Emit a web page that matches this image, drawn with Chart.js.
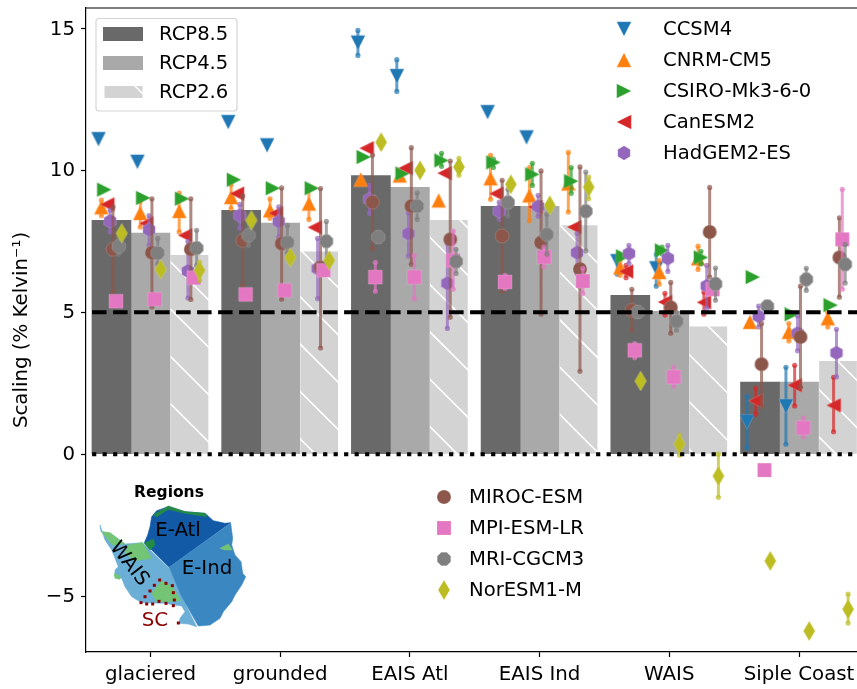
<!DOCTYPE html>
<html>
<head>
<meta charset="utf-8">
<style>
  html, body { margin: 0; padding: 0; background: #fff; }
  canvas { display: block; }
</style>
<script src="https://cdn.jsdelivr.net/npm/chart.js@4"></script>
</head>
<body>
<canvas id="chart" width="857" height="689"></canvas>
<script>
  // ===== Data =====
  const regions = ["glaciered", "grounded", "EAIS Atl", "EAIS Ind", "WAIS", "Siple Coast"];
  const yTicks = [-5, 0, 5, 10, 15];

  const rcp85 = [8.24, 8.59, 9.82, 8.73, 5.6, 2.54];
  const rcp45 = [7.79, 8.14, 9.4, 8.73, 5.03, 2.54];
  const rcp26 = [7.04, 7.16, 8.27, 8.09, 4.52, 3.31];

  // model values go region by region, three per region: RCP8.5, RCP4.5, RCP2.6
  const ccsm4Val = [11.1, 10.3, null, 11.7, 10.88, null, 14.5, 13.32, null, 12.05, 11.16, null, 6.8, 6.55, null, 1.14, 1.69, null];
  const ccsm4Lo = [null, null, null, null, null, null, 14.05, 12.78, null, null, null, null, 6.34, 5.92, null, 0.22, 0.35, null];
  const ccsm4Hi = [null, null, null, null, null, null, 14.93, 13.9, null, null, null, null, 7.0, 7.04, null, 2.04, 3.06, null];

  const cnrmVal = [8.7, 8.5, 8.57, 9.06, 8.59, 8.83, 9.68, 9.82, 8.94, 9.72, 9.12, 9.54, 6.58, 6.42, 6.9, 4.66, 4.31, 4.79];
  const cnrmLo = [8.4, 8.0, 7.83, 8.65, 8.31, 8.27, null, null, null, 8.98, 8.22, 8.53, 6.3, 5.99, 6.51, null, 3.99, 4.48];
  const cnrmHi = [8.95, 8.9, 9.2, 9.5, 9.0, 9.4, null, null, null, 10.53, 10.1, 10.63, 6.85, 6.83, 7.33, null, 4.6, 5.0];

  const csiroVal = [9.32, 9.03, 9.0, 9.67, 9.37, 9.37, 10.47, 9.89, 10.35, 10.28, 9.86, 9.62, 6.97, 7.18, 6.93, 6.24, 4.93, 5.25];
  const csiroLo = [null, null, null, null, null, null, null, null, 10.14, 10.1, 9.47, 9.19, null, 7.05, 6.7, null, null, null];
  const csiroHi = [null, null, null, null, null, null, null, null, 10.6, 10.4, 10.25, 10.1, null, 7.3, 7.15, null, null, null];

  const canVal = [8.8, 8.13, 7.71, 9.18, 8.49, 7.99, 10.78, 10.08, 9.9, 9.18, 8.71, 8.0, 6.44, 5.36, 5.35, 1.88, 2.43, 1.72];
  const canLo = [null, null, null, null, null, null, null, null, null, null, null, null, 6.22, 4.9, 4.93, 1.41, 1.7, 0.79];
  const canHi = [null, null, null, null, null, null, null, null, null, null, null, null, 6.65, 5.67, 5.71, 2.33, 3.13, 2.71];

  const hadVal = [8.21, 7.91, 6.45, 8.41, 8.2, 6.54, 8.98, 7.77, 6.02, 8.56, 8.73, 7.1, 7.07, 6.9, 5.93, 4.86, 4.26, 3.57];
  const hadLo = [7.83, 7.36, 5.5, 7.96, 7.65, 5.48, 8.48, 6.98, 4.43, 8.27, 8.38, 6.37, 6.72, 6.44, 5.14, 4.48, 3.64, 2.72];
  const hadHi = [8.6, 8.41, 7.5, 8.8, 8.71, 7.6, 9.47, 8.5, 7.42, 8.88, 9.12, 7.78, 7.36, 7.36, 6.65, 5.22, 4.87, 4.4];

  const mirocVal = [7.22, 7.1, 7.22, 7.53, 7.42, 6.58, 8.88, 8.74, 7.57, 7.69, 7.46, 6.52, 5.07, 5.17, 7.83, 3.17, 4.13, 6.93];
  const mirocLo = [5.72, 5.19, 5.45, 5.95, 5.46, 3.74, 7.25, 6.69, 4.82, 5.74, 4.93, 2.92, 4.37, 4.26, 6.24, 1.67, 2.36, 5.53];
  const mirocHi = [8.71, 9.0, 9.0, 9.1, 9.38, 9.36, 10.53, 10.8, 10.33, 9.65, 9.98, 10.12, 5.81, 6.05, 9.4, 4.6, 5.92, 8.33];

  const mpiVal = [5.39, 5.46, 6.22, 5.63, 5.77, 6.48, 6.24, 6.24, 6.83, 6.07, 6.95, 6.1, 3.66, 2.72, 5.81, -0.56, 0.93, 7.57];
  const mpiLo = [null, null, null, null, null, null, 5.74, 5.48, 5.81, 5.84, 6.6, 5.66, 3.4, 2.39, null, null, 0.61, 5.81];
  const mpiHi = [null, null, null, null, null, null, 6.76, 7.0, 7.86, 6.3, 7.3, 6.55, 3.9, 3.06, null, null, 1.27, 9.33];

  const mriVal = [7.32, 7.09, 7.26, 7.71, 7.46, 7.5, 7.65, 8.74, 6.79, 8.87, 7.74, 8.56, 5.01, 4.68, 6.0, 5.21, 6.16, 6.69];
  const mriLo = [7.04, 6.7, 6.65, 7.36, 7.1, 6.76, null, 8.27, 6.37, 8.39, 7.04, 7.16, 4.85, 4.37, 5.42, 5.05, 5.77, 6.03];
  const mriHi = [7.64, 7.6, 7.89, 8.2, 8.06, 8.2, null, 9.21, 7.22, 9.33, 8.45, 9.94, 5.15, 5.0, 6.56, 5.35, 6.55, 7.39];

  const norVal = [7.78, 6.51, 6.48, 8.24, 6.93, 6.83, 10.99, 10.0, 10.12, 9.51, 8.77, 9.41, 2.58, 0.35, -0.77, -3.76, -6.23, -5.46];
  const norLo = [null, null, 6.13, null, null, null, null, null, 9.83, null, null, 9.0, null, -0.03, -1.52, null, null, -5.95];
  const norHi = [null, null, 6.77, null, null, null, null, null, 10.42, null, null, 9.76, null, 0.67, 0, null, null, -4.93];

  const models = [
    { name: "CCSM4", color: "#1f77b4", shape: "down", val: ccsm4Val, lo: ccsm4Lo, hi: ccsm4Hi },
    { name: "CNRM-CM5", color: "#ff7f0e", shape: "up", val: cnrmVal, lo: cnrmLo, hi: cnrmHi },
    { name: "CSIRO-Mk3-6-0", color: "#2ca02c", shape: "right", val: csiroVal, lo: csiroLo, hi: csiroHi },
    { name: "CanESM2", color: "#d62728", shape: "left", val: canVal, lo: canLo, hi: canHi },
    { name: "HadGEM2-ES", color: "#9467bd", shape: "hexagon", val: hadVal, lo: hadLo, hi: hadHi },
    { name: "MIROC-ESM", color: "#8c564b", shape: "circle", val: mirocVal, lo: mirocLo, hi: mirocHi },
    { name: "MPI-ESM-LR", color: "#e377c2", shape: "square", val: mpiVal, lo: mpiLo, hi: mpiHi },
    { name: "MRI-CGCM3", color: "#7f7f7f", shape: "octagon", val: mriVal, lo: mriLo, hi: mriHi },
    { name: "NorESM1-M", color: "#bcbd22", shape: "diamond", val: norVal, lo: norLo, hi: norHi }
  ];

  // ===== Helpers =====
  const FONT = '"DejaVu Sans"';
  const FONT_SIZE = 19.8;
  const LEGEND_FONT_SIZE = 19.6;
  const BAR_STEP = 0.3;
  const MODEL_STEP = 0.0224;

  function regularPolygon(n, r, turn) {
    const pts = [];
    for (let k = 0; k < n; k++) {
      const a = Math.PI * 2 / n * k + turn;
      pts.push([r * Math.sin(a), -r * Math.cos(a)]);
    }
    return pts;
  }

  function makeMarker(shape, color) {
    const c = document.createElement("canvas");
    c.width = 28;
    c.height = 28;
    const g = c.getContext("2d");
    g.translate(14, 14);
    g.beginPath();
    if (shape === "circle") {
      g.arc(0, 0, 7, 0, Math.PI * 2);
    } else {
      let pts;
      if (shape === "down") pts = [[-7.3, -7.3], [7.3, -7.3], [0, 7.3]];
      if (shape === "up") pts = [[-7.3, 7.3], [7.3, 7.3], [0, -7.3]];
      if (shape === "right") pts = [[-7.3, -7.3], [-7.3, 7.3], [7.3, 0]];
      if (shape === "left") pts = [[7.3, -7.3], [7.3, 7.3], [-7.3, 0]];
      if (shape === "square") pts = [[-7, -7], [7, -7], [7, 7], [-7, 7]];
      if (shape === "diamond") pts = [[0, -9.9], [5.9, 0], [0, 9.9], [-5.9, 0]];
      if (shape === "hexagon") pts = regularPolygon(6, 7.2, 0);
      if (shape === "octagon") pts = regularPolygon(8, 7.3, Math.PI / 8);
      pts.forEach((p, k) => k ? g.lineTo(p[0], p[1]) : g.moveTo(p[0], p[1]));
      g.closePath();
    }
    g.fillStyle = color;
    g.fill();
    g.strokeStyle = "rgba(255,255,255,0.35)";
    g.lineWidth = 0.5;
    g.stroke();
    return c;
  }
  models.forEach(m => m.marker = makeMarker(m.shape, m.color));

  // white "\" hatch, anchored to the canvas like the picture's tile
  function makeHatch() {
    const size = 142;
    const c = document.createElement("canvas");
    c.width = size;
    c.height = size;
    const g = c.getContext("2d");
    g.fillStyle = "#d3d3d3";
    g.fillRect(0, 0, size, size);
    g.strokeStyle = "#fff";
    g.lineWidth = 1.6;
    for (let k = -4; k < 4; k++) {
      const off = 44 + k * size / 3;
      g.beginPath();
      g.moveTo(-10, off - 10);
      g.lineTo(size + 10, off + size + 10);
      g.stroke();
    }
    return document.getElementById("chart").getContext("2d").createPattern(c, "repeat");
  }

  function markerPoints(m) {
    const out = [];
    m.val.forEach((v, k) => {
      if (v === null) return;
      out.push({ x: modelX(m, k), y: v });
    });
    return out;
  }

  function modelX(m, k) {
    const region = Math.floor(k / 3);
    const scen = k % 3 - 1;
    return region + scen * BAR_STEP + (models.indexOf(m) - 4.5) * MODEL_STEP;
  }

  // pairs of points split by a gap, so one line dataset holds all of a model's error bars
  function errorPoints(m) {
    const out = [];
    m.val.forEach((v, k) => {
      if (m.lo[k] === null || m.hi[k] === null) return;
      const x = modelX(m, k);
      out.push({ x, y: m.lo[k] }, { x, y: m.hi[k] }, { x, y: null });
    });
    return out;
  }

  // ===== Datasets =====
  const datasets = [
    { type: "bar", label: "RCP8.5", data: rcp85.map((y, x) => ({ x, y })), backgroundColor: "#696969", barThickness: 39, order: 58 },
    { type: "bar", label: "RCP4.5", data: rcp45.map((y, x) => ({ x, y })), backgroundColor: "#a9a9a9", barThickness: 39, order: 59 },
    { type: "bar", label: "RCP2.6", data: rcp26.map((y, x) => ({ x, y })), backgroundColor: makeHatch(), borderColor: "#fff", borderWidth: 1, barThickness: 39, order: 60 }
  ];

  models.forEach((m, i) => {
    datasets.push({
      type: "line",
      label: m.name + " range",
      data: errorPoints(m),
      borderColor: m.color + "b3",
      borderWidth: 3,
      spanGaps: false,
      pointRadius: 2.6,
      pointBorderWidth: 0,
      pointBackgroundColor: m.color + "b3",
      order: 40 - 2 * i
    });
    datasets.push({
      type: "scatter",
      label: m.name,
      data: markerPoints(m),
      showLine: false,
      pointStyle: m.marker,
      order: 39 - 2 * i
    });
  });

  datasets.push({
    type: "line", label: "five", data: [{ x: -0.45, y: 5 }, { x: 5.45, y: 5 }],
    borderColor: "#000", borderWidth: 4, borderDash: [14.5, 6.5], pointRadius: 0, order: 1
  });
  datasets.push({
    type: "line", label: "zero", data: [{ x: -0.45, y: 0 }, { x: 5.45, y: 0 }],
    borderColor: "#000", borderWidth: 4, borderDash: [4.2, 6.3], pointRadius: 0, order: 0
  });

  // ===== Inset map, traced in the pixels of a 3x crop =====
  const MAP_X = 85;
  const MAP_Y = 470;
  const MAP_SCALE = 1 / 3;
  const mapShapes = [
    ["#6baed6", [[45, 165], [48, 185], [75, 190], [120, 222], [172, 218], [252, 295], [290, 380], [335, 470], [310, 462], [282, 460], [285, 445], [300, 425], [290, 408], [270, 405], [240, 400], [170, 398], [140, 380], [120, 350], [110, 325], [90, 322], [90, 300], [100, 290], [80, 240], [60, 210]]],
    ["#1259a6", [[200, 140], [215, 122], [250, 110], [300, 125], [360, 130], [385, 152], [420, 160], [437, 158], [252, 292], [205, 245], [178, 218], [188, 195], [195, 170]]],
    ["#3a87c1", [[437, 160], [443, 205], [440, 225], [450, 255], [468, 275], [473, 310], [482, 320], [470, 345], [450, 375], [440, 395], [415, 425], [405, 445], [375, 465], [340, 468], [290, 380], [252, 292]]],
    ["#74c476", [[130, 225], [172, 218], [200, 265], [150, 272], [120, 250]]],
    ["#74c476", [[200, 370], [230, 332], [262, 350], [287, 392], [240, 395], [215, 395]]],
    ["#74c476", [[50, 185], [75, 188], [120, 222], [82, 225]]],
    ["#74c476", [[405, 235], [430, 222], [442, 240], [420, 240]]],
    ["#74c476", [[88, 310], [105, 318], [105, 328], [90, 325]]],
    ["#238b45", [[205, 135], [250, 108], [300, 125], [360, 130], [365, 140], [300, 130], [250, 118], [215, 140]]],
    ["#238b45", [[178, 220], [205, 207], [210, 225], [195, 240]]]
  ];
  const siplePoints = [[168, 398], [185, 402], [203, 402], [222, 394], [243, 400], [265, 407], [268, 390], [265, 368], [262, 347], [243, 340], [224, 330], [208, 346], [195, 363], [180, 380], [280, 459]];

  function drawMap(ctx) {
    const px = p => [MAP_X + p[0] * MAP_SCALE, MAP_Y + p[1] * MAP_SCALE];
    mapShapes.forEach(([color, pts]) => {
      ctx.beginPath();
      pts.forEach((p, k) => {
        const q = px(p);
        k ? ctx.lineTo(q[0], q[1]) : ctx.moveTo(q[0], q[1]);
      });
      ctx.closePath();
      ctx.fillStyle = color;
      ctx.strokeStyle = color;
      ctx.lineWidth = 0.6;
      ctx.fill();
      ctx.stroke();
    });
    ctx.fillStyle = "#8b0000";
    siplePoints.forEach(p => {
      const q = px(p);
      ctx.fillRect(q[0] - 1.5, q[1] - 1.5, 3, 3);
    });

    ctx.textAlign = "center";
    ctx.textBaseline = "middle";
    ctx.fillStyle = "#000";
    ctx.font = "bold 15.5px " + FONT;
    ctx.fillText("Regions", 169, 493);
    ctx.font = FONT_SIZE + "px " + FONT;
    ctx.fillText("E-Atl", 178, 531);
    ctx.fillText("E-Ind", 207, 569);
    ctx.save();
    ctx.translate(129, 564);
    ctx.rotate(52 * Math.PI / 180);
    ctx.fillText("WAIS", 0, 0);
    ctx.restore();
    ctx.fillStyle = "#8b0000";
    ctx.fillText("SC", 155, 621);
  }

  // ===== Legends and frame =====
  const rcpRows = [["RCP8.5", "#696969"], ["RCP4.5", "#a9a9a9"], ["RCP2.6", "#d3d3d3"]];

  function drawRcpLegend(ctx) {
    ctx.beginPath();
    ctx.roundRect(96, 18.5, 141, 92.5, 3);
    ctx.fillStyle = "rgba(255,255,255,0.8)";
    ctx.fill();
    ctx.strokeStyle = "#d5d5d5";
    ctx.lineWidth = 1.2;
    ctx.stroke();

    ctx.textAlign = "left";
    ctx.textBaseline = "middle";
    ctx.font = LEGEND_FONT_SIZE + "px " + FONT;
    rcpRows.forEach(([name, color], k) => {
      const y = 34 + k * 29;
      ctx.fillStyle = color;
      if (k < 2) ctx.fillRect(103, y - 7, 40, 14);
      else ctx.fillRect(104.5, y - 6, 38, 12);
      ctx.fillStyle = "#000";
      ctx.fillText(name, 159, y + 1);
    });
    ctx.strokeStyle = "#fff";
    ctx.lineWidth = 1.5;
    ctx.beginPath();
    ctx.moveTo(134, 85);
    ctx.lineTo(143, 94);
    ctx.stroke();
  }

  function drawModelLegend(ctx, rows, markerX, textX, startY, stepY) {
    ctx.textAlign = "left";
    ctx.textBaseline = "middle";
    ctx.font = LEGEND_FONT_SIZE + "px " + FONT;
    ctx.fillStyle = "#000";
    rows.forEach((m, k) => {
      const y = startY + k * stepY;
      ctx.drawImage(m.marker, markerX - 14, y - 14);
      ctx.fillText(m.name, textX, y + 1);
    });
  }

  const decorations = {
    id: "decorations",
    afterDraw(chart) {
      const ctx = chart.ctx;
      const area = chart.chartArea;
      ctx.save();
      ctx.strokeStyle = "#000";
      ctx.lineWidth = 1.2;
      ctx.beginPath();
      ctx.moveTo(area.left, area.top);
      ctx.lineTo(area.right, area.top);
      ctx.stroke();
      drawRcpLegend(ctx);
      drawModelLegend(ctx, models.slice(0, 5), 624, 663, 29, 31);
      drawModelLegend(ctx, models.slice(5), 444, 469, 497, 31);
      drawMap(ctx);
      ctx.restore();
    }
  };

  // ===== Chart =====
  new Chart(document.getElementById("chart"), {
    type: "bar",
    data: { datasets },
    plugins: [decorations],
    options: {
      responsive: false,
      animation: false,
      layout: { padding: { top: 8 }, autoPadding: false },
      plugins: { legend: { display: false }, tooltip: { enabled: false } },
      scales: {
        x: {
          type: "linear",
          offset: false,
          min: -0.497,
          max: 5.447,
          afterFit: s => { s.height = 37; s.paddingLeft = 0; s.paddingRight = 0; },
          afterBuildTicks: s => { s.ticks = regions.map((r, k) => ({ value: k })); },
          ticks: {
            autoSkip: false,
            maxRotation: 0,
            padding: 6,
            color: "#000",
            font: { family: FONT, size: FONT_SIZE },
            callback: v => regions[v]
          },
          border: { color: "#000", width: 1.2 },
          grid: { offset: false, drawOnChartArea: false, drawTicks: true, tickLength: 5, tickColor: "#000", tickWidth: 1.2 }
        },
        y: {
          min: -6.97,
          max: 15.72,
          afterFit: s => { s.width = 86; s.paddingTop = 0; s.paddingBottom = 0; },
          afterBuildTicks: s => { s.ticks = yTicks.map(value => ({ value })); },
          ticks: {
            padding: 6,
            labelOffset: 1,
            color: "#000",
            font: { family: FONT, size: FONT_SIZE },
            callback: v => String(v).replace("-", "\u2212")
          },
          title: {
            display: true,
            text: "Scaling (% Kelvin\u207B\u00B9)",
            color: "#000",
            font: { family: FONT, size: FONT_SIZE },
            padding: { top: 10, bottom: 0 }
          },
          border: { color: "#000", width: 1.2 },
          grid: { drawOnChartArea: false, drawTicks: true, tickLength: 5, tickColor: "#000", tickWidth: 1.2 }
        }
      }
    }
  });
</script>
</body>
</html>
